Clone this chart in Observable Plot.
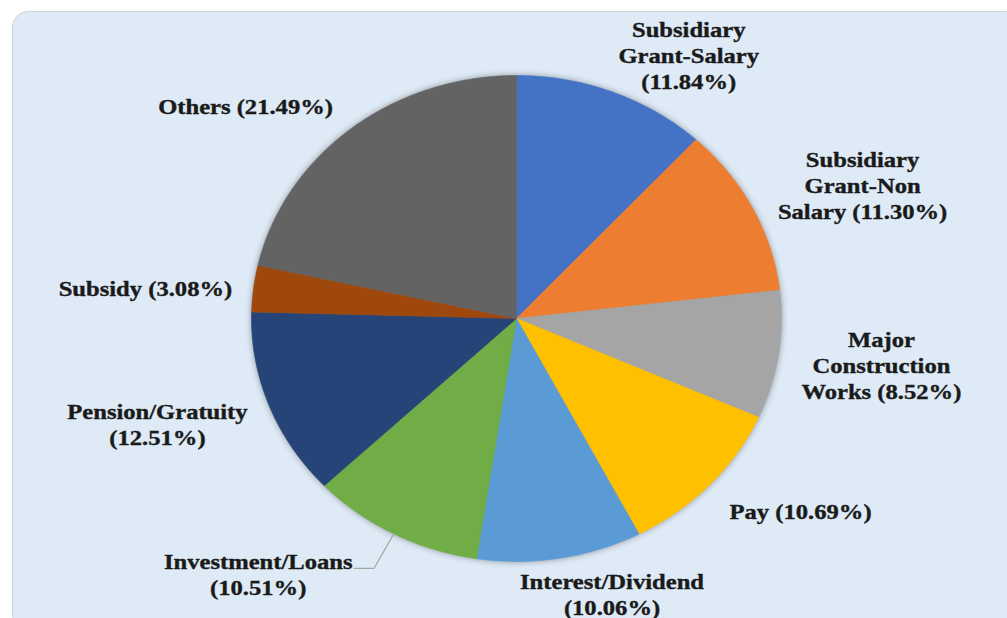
<!DOCTYPE html>
<html>
<head>
<meta charset="utf-8">
<script src="https://cdn.jsdelivr.net/npm/d3@7"></script>
<script src="https://cdn.jsdelivr.net/npm/@observablehq/plot@0.6"></script>
<style>
  html, body { margin: 0; padding: 0; background: #ffffff; overflow: hidden; }
  #wrap { position: relative; width: 1007px; height: 618px; }
  #panel { position: absolute; left: 12px; top: 11px; width: 1010px; height: 620px;
           background: #DEEAF6; border: 1px solid #cfd3d8; border-radius: 16px; box-sizing: border-box; }
  #chart { position: absolute; left: 0; top: 0; }
</style>
</head>
<body>
<div id="wrap"><div id="panel"></div><div id="chart"></div></div>
<script>
// ---- data ----
const categories = ["Subsidiary\nGrant-Salary", "Subsidiary\nGrant-Non\nSalary", "Major\nConstruction\nWorks", "Pay",
  "Interest/Dividend", "Investment/Loans", "Pension/Gratuity", "Subsidy", "Others"];
const shares = [11.84, 11.30, 8.52, 10.69, 10.06, 10.51, 12.51, 3.08, 21.49];
const percentOnNewLine = [true, false, false, false, true, true, true, false, false];
const sliceColors = ["#4472C4", "#ED7D31", "#A5A5A5", "#FFC000", "#5B9BD5", "#70AD47", "#264478", "#9E480E", "#636363"];

// ---- label placement (style, relative to slice middle) ----
const labelAngleShift = [9.6, 4.2, -0.8, -6.8, -8.2, 15.3, 3.3, -1.9, -10.7];
const labelRadius = [1.265, 1.417, 1.39, 1.332, 1.19, 1.432, 1.422, 1.406, 1.347];
const leaderFor = ["Investment/Loans"];

const total = d3.sum(shares);
const rad = deg => deg * Math.PI / 180;
const polar = (deg, r) => ({ x: r * Math.sin(rad(deg)), y: r * Math.cos(rad(deg)) });

// wedge polygons
const wedges = [];
const mids = [];
let cum = 0;
shares.forEach((v, i) => {
  const a0 = cum / total * 360, a1 = (cum + v) / total * 360;
  cum += v;
  mids.push((a0 + a1) / 2);
  const n = Math.max(4, Math.ceil((a1 - a0) / 0.5));
  wedges.push({ name: categories[i], color: sliceColors[i], x: 0, y: 0 });
  for (let k = 0; k <= n; k++) {
    const p = polar(a0 + (a1 - a0) * k / n, 1);
    wedges.push({ name: categories[i], color: sliceColors[i], x: p.x, y: p.y });
  }
  wedges.push({ name: categories[i], color: sliceColors[i], x: 0, y: 0 });
});

const labels = categories.map((c, i) => {
  const p = polar(mids[i] + labelAngleShift[i], labelRadius[i]);
  return { x: p.x, y: p.y, text: c + (percentOnNewLine[i] ? "\n" : " ") + "(" + shares[i].toFixed(2) + "%)" };
});

const leaders = [];
leaderFor.forEach(nm => {
  const i = categories.indexOf(nm);
  const e = polar(mids[i], 1), m = polar(mids[i], 1.16);
  leaders.push({ id: nm, x: e.x, y: e.y }, { id: nm, x: m.x, y: m.y }, { id: nm, x: m.x - 0.075, y: m.y });
});

const chart = Plot.plot({
  width: 1007, height: 618,
  marginLeft: 251, marginRight: 226, marginTop: 75, marginBottom: 57,
  x: { domain: [-1, 1], axis: null },
  y: { domain: [-1, 1], axis: null },
  color: { type: "identity" },
  style: { background: "transparent", overflow: "visible" },
  marks: [
    Plot.line(wedges, { x: "x", y: "y", z: "name", fill: "color", stroke: "color", strokeWidth: 0.6, curve: "linear" }),
    Plot.line(leaders, { x: "x", y: "y", z: "id", stroke: "#a6a6a6", strokeWidth: 1.2 }),
    Plot.text(labels, { x: "x", y: "y", text: "text", fontSize: 20, fontWeight: "bold",
      fontFamily: "Liberation Serif, Times New Roman, serif", lineHeight: 1.3, fill: "#1a1a1a",
      stroke: "#1a1a1a", strokeWidth: 0.35 })
  ]
});
document.getElementById("chart").appendChild(chart);
const pie = chart.querySelector('g[aria-label="line"]');
if (pie) pie.style.filter = "drop-shadow(0px 0px 3px rgba(0,0,0,0.35))";
// the reference's labels are drawn horizontally widened
chart.querySelectorAll('g[aria-label="text"] text').forEach(t => {
  const tr = t.getAttribute("transform");
  if (tr) t.setAttribute("transform", tr + " scale(1.23,1)");
  else {
    const x = t.getAttribute("x") || 0, y = t.getAttribute("y") || 0;
    t.setAttribute("transform", `translate(${x},${y}) scale(1.23,1) translate(${-x},${-y})`);
  }
});
</script>
</body>
</html>
